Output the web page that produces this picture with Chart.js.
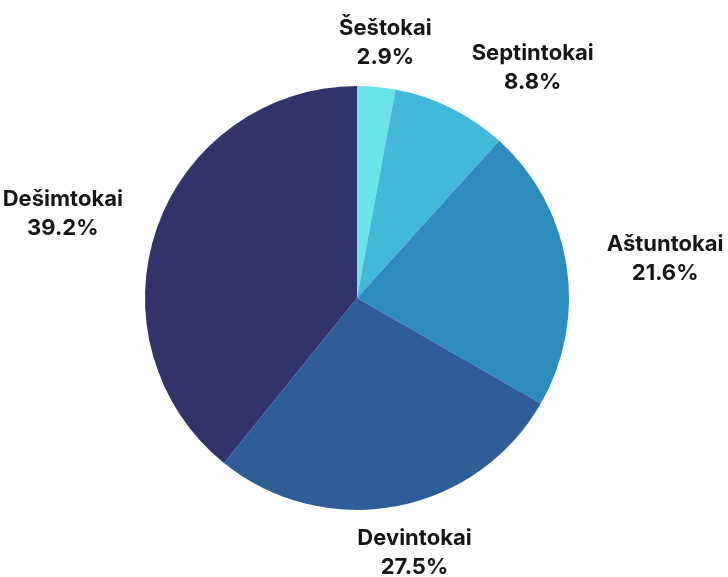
<!DOCTYPE html>
<html>
<head>
<meta charset="utf-8">
<script src="https://cdn.jsdelivr.net/npm/chart.js@4/dist/chart.umd.min.js"></script>
<style>
  html, body { margin: 0; padding: 0; background: #ffffff; }
  #wrap { width: 728px; height: 577px; position: relative; }
</style>
</head>
<body>
<div id="wrap"><canvas id="c" width="728" height="577"></canvas></div>
<script>
const categories = ["Šeštokai", "Septintokai", "Aštuntokai", "Devintokai", "Dešimtokai"];
const shares = [2.9, 8.8, 21.6, 27.5, 39.2];
const sliceColors = ["#6BE4E9", "#43B8D9", "#2E8CBC", "#2E5D98", "#31346A"];

const outsideLabels = {
  id: "outsideLabels",
  afterDraw(chart) {
    const ctx = chart.ctx;
    const meta = chart.getDatasetMeta(0);
    const fontSize = 22;
    const lineStep = 29;
    const capH = fontSize * 0.727;
    ctx.save();
    ctx.font = "bold " + fontSize + "px Inter, 'Open Sans', sans-serif";
    ctx.fillStyle = "#161616";
    ctx.textAlign = "center";
    ctx.textBaseline = "alphabetic";
    const boxes = [];
    meta.data.forEach((arc, i) => {
      const p = arc.getProps(["x", "y", "startAngle", "endAngle", "outerRadius"], true);
      const l1 = categories[i];
      const l2 = shares[i].toFixed(1) + "%";
      const w = Math.max(ctx.measureText(l1).width, ctx.measureText(l2).width);
      const h = lineStep + capH;
      const a = (p.startAngle + p.endAngle) / 2;
      const rx = p.outerRadius + 100;
      const ry = p.outerRadius + 46;
      let cx = p.x + Math.cos(a) * rx;
      let cy = p.y + Math.sin(a) * ry;
      const dir = Math.cos(a) >= 0 ? 1 : -1;
      const pad = 40;
      boxes.forEach(b => {
        const vOverlap = Math.abs(b.y - cy) < (b.h + h) / 2;
        const hGap = Math.abs(b.x - cx) - (b.w + w) / 2;
        if (vOverlap && hGap < pad) {
          cx = b.x + dir * ((b.w + w) / 2 + pad);
        }
      });
      boxes.push({ x: cx, y: cy, w: w, h: h });
      ctx.fillText(l1, cx, cy - lineStep / 2 + capH / 2);
      ctx.fillText(l2, cx, cy + lineStep / 2 + capH / 2);
    });
    ctx.restore();
  }
};

new Chart(document.getElementById("c"), {
  type: "pie",
  data: {
    labels: categories,
    datasets: [{
      data: shares,
      backgroundColor: sliceColors,
      borderWidth: 0
    }]
  },
  options: {
    responsive: false,
    animation: false,
    layout: { padding: { left: 145, right: 159, top: 86, bottom: 67 } },
    plugins: {
      legend: { display: false },
      tooltip: { enabled: false }
    }
  },
  plugins: [outsideLabels]
});
</script>
</body>
</html>
